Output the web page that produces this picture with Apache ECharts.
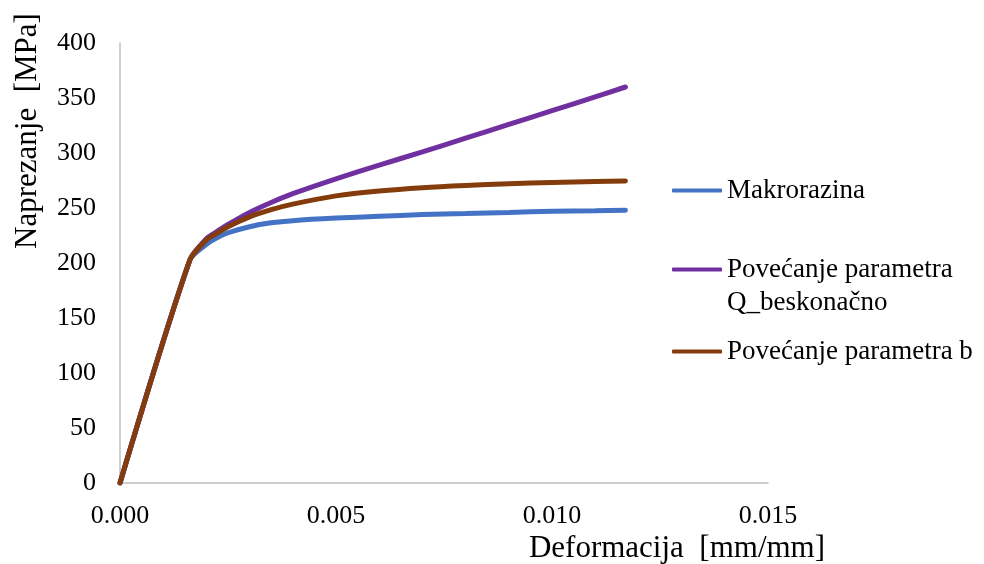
<!DOCTYPE html>
<html>
<head>
<meta charset="utf-8">
<script src="https://cdn.jsdelivr.net/npm/echarts@6/dist/echarts.min.js"></script>
<style>html,body{margin:0;padding:0;background:#fff;}#c{width:984px;height:564px;}</style>
</head>
<body>
<div id="c"></div>
<script>
// ---- data ----
const strain = [0, 0.00162, 0.002, 0.0022, 0.0025, 0.003, 0.0035, 0.004, 0.005, 0.006, 0.007, 0.008, 0.009, 0.010, 0.011, 0.0117];
const makrorazina = [0, 203, 217, 222, 227.5, 233, 236.5, 238.5, 240.8, 242.5, 244, 245, 246, 247, 247.6, 248];
const povecanjeQ  = [0, 203, 222, 227.5, 235, 246, 255, 263, 276.5, 289, 301, 313.5, 326, 338.5, 351, 360];
const povecanjeB  = [0, 203, 221, 226, 233, 242, 248.5, 253.5, 261, 265.5, 268.5, 270.5, 272, 273.2, 274, 274.5];
const seriesNames = ['Makrorazina', 'Povećanje parametra Q_beskonačno', 'Povećanje parametra b'];
const xTicks = [0, 0.005, 0.010, 0.015];
const yTicks = [0, 50, 100, 150, 200, 250, 300, 350, 400];
const xTitle = 'Deformacija  [mm/mm]';
const yTitle = 'Naprezanje  [MPa]';

const colors = ['#4472C4', '#7030A0', '#843C0C'];
const pairs = arr => strain.map((s, i) => [s, arr[i]]);
const FONT = '"Liberation Serif", "Times New Roman", serif';

const chart = echarts.init(document.getElementById('c'));
const legendBase = {
  orient: 'vertical', left: 672, padding: 0, itemWidth: 50, itemHeight: 4, itemGap: 5,
  icon: 'roundRect',
  textStyle: { fontFamily: FONT, fontSize: 27, color: '#000', lineHeight: 33 }
};
chart.setOption({
  animation: false,
  backgroundColor: '#fff',
  color: colors,
  grid: { left: 120, right: 216, top: 43, bottom: 81, containLabel: false },
  xAxis: {
    type: 'value', min: xTicks[0], max: xTicks[xTicks.length - 1], interval: 0.005,
    axisLine: { show: true, lineStyle: { color: '#BFBFBF', width: 1.5 } },
    axisTick: { show: false }, splitLine: { show: false },
    axisLabel: { margin: 20, fontFamily: FONT, fontSize: 26, color: '#000', formatter: v => v.toFixed(3) }
  },
  yAxis: {
    type: 'value', min: yTicks[0], max: yTicks[yTicks.length - 1], interval: 50,
    axisLine: { show: true, lineStyle: { color: '#BFBFBF', width: 1.5 } },
    axisTick: { show: false }, splitLine: { show: false },
    axisLabel: { margin: 24, fontFamily: FONT, fontSize: 26, color: '#000' }
  },
  legend: [
    Object.assign({}, legendBase, { top: 174, data: [seriesNames[0]] }),
    Object.assign({}, legendBase, { top: 220, data: [seriesNames[1]],
      formatter: () => '\nPovećanje parametra\nQ_beskonačno' }),
    Object.assign({}, legendBase, { top: 335, data: [seriesNames[2]] })
  ],
  graphic: [
    { type: 'text', x: 677, y: 549, style: { text: xTitle, font: '31px ' + FONT, fill: '#000', align: 'center', verticalAlign: 'middle' } },
    { type: 'text', x: 28, y: 131, rotation: Math.PI / 2, style: { text: yTitle, font: '31px ' + FONT, fill: '#000', align: 'center', verticalAlign: 'middle' } }
  ],
  series: [
    { name: seriesNames[0], type: 'line', data: pairs(makrorazina), showSymbol: false, smooth: 0.25, lineStyle: { width: 5, cap: 'round' } },
    { name: seriesNames[1], type: 'line', data: pairs(povecanjeQ), showSymbol: false, smooth: 0.25, lineStyle: { width: 5, cap: 'round' } },
    { name: seriesNames[2], type: 'line', data: pairs(povecanjeB), showSymbol: false, smooth: 0.25, lineStyle: { width: 5, cap: 'round' } }
  ]
});
</script>
</body>
</html>
